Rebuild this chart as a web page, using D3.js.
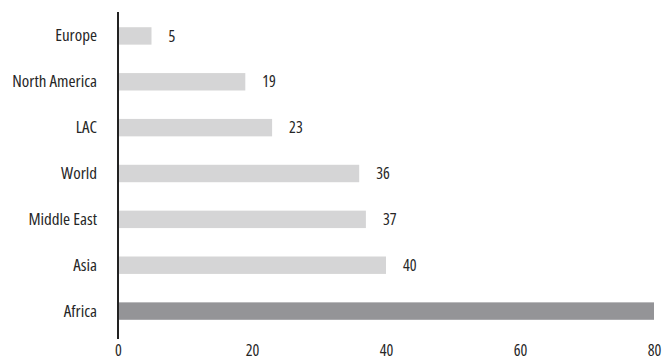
<!DOCTYPE html>
<html>
<head>
<meta charset="utf-8">
<script src="https://cdn.jsdelivr.net/npm/d3@7"></script>
<style>
  body { margin: 0; background: #fff; }
  text { font-family: "Open Sans", sans-serif; font-stretch: 75%; font-weight: 500; fill: #262626; }
</style>
</head>
<body>
<div id="chart"></div>
<script>
var regions = ["Europe", "North America", "LAC", "World", "Middle East", "Asia", "Africa"];
var values = [5, 19, 23, 36, 37, 40, 80];
var highlight = ["Africa"];
var xTicks = [0, 20, 40, 60, 80];

var width = 664, height = 361;
var margin = {top: 13, right: 10, bottom: 22, left: 118};

var svg = d3.select("#chart").append("svg")
    .attr("width", width)
    .attr("height", height);

var x = d3.scaleLinear()
    .domain([0, 80])
    .range([margin.left, 654]);

var y = d3.scaleBand()
    .domain(regions)
    .range([margin.top, 334])
    .paddingInner(0.62)
    .paddingOuter(0.31);

var data = regions.map(function(r, i) {
    return {region: r, value: values[i]};
});

svg.selectAll(".bar")
    .data(data)
    .enter()
    .append("rect")
    .attr("class", "bar")
    .attr("x", x(0))
    .attr("y", function(d) { return y(d.region); })
    .attr("width", function(d) { return x(d.value) - x(0); })
    .attr("height", y.bandwidth())
    .attr("fill", function(d) {
        return highlight.indexOf(d.region) >= 0 ? "#949497" : "#d5d5d6";
    });

// value labels (not on the highlighted bar)
svg.selectAll(".val")
    .data(data.filter(function(d) { return highlight.indexOf(d.region) < 0; }))
    .enter()
    .append("text")
    .attr("class", "val")
    .attr("x", function(d) { return x(d.value) + 17; })
    .attr("y", function(d) { return y(d.region) + y.bandwidth() / 2; })
    .attr("dy", "0.35em")
    .attr("font-size", 16)
    .text(function(d) { return d.value; });

// category labels
var yAxis = d3.axisLeft(y).tickSize(0).tickPadding(21);
var gy = svg.append("g")
    .attr("transform", "translate(" + x(0) + ",0)")
    .call(yAxis);
gy.select(".domain").remove();
gy.selectAll("text")
    .attr("font-size", 17)
    .attr("font-family", null)
    .style("fill", "#262626");

// x axis labels only
var xAxis = d3.axisBottom(x).tickValues(xTicks).tickSize(0).tickPadding(0);
var gx = svg.append("g")
    .attr("transform", "translate(0,345)")
    .call(xAxis);
gx.select(".domain").remove();
gx.selectAll("text")
    .attr("font-size", 16)
    .attr("font-family", null)
    .style("fill", "#262626");

// vertical baseline
svg.append("line")
    .attr("x1", x(0)).attr("x2", x(0))
    .attr("y1", 12).attr("y2", 339)
    .attr("stroke", "#222")
    .attr("stroke-width", 2);
</script>
</body>
</html>
